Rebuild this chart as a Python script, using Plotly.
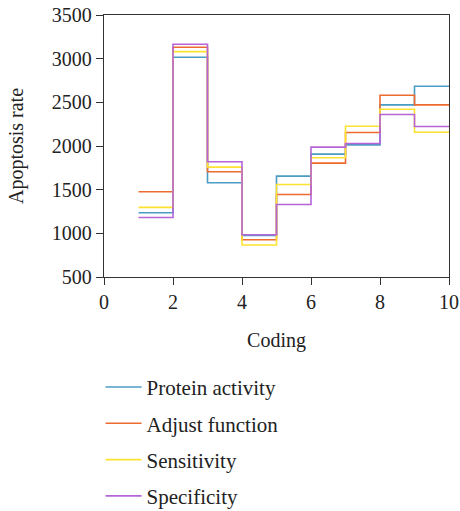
import plotly.graph_objects as go

coding = [1, 2, 3, 4, 5, 6, 7, 8, 9, 10]
protein_activity = [1236, 3016, 1579, 975, 1655, 1907, 2013, 2471, 2684]
adjust_function = [1476, 3130, 1705, 927, 1445, 1804, 2154, 2581, 2471]
sensitivity = [1297, 3081, 1758, 866, 1560, 1865, 2227, 2421, 2158]
specificity = [1182, 3165, 1819, 984, 1331, 1987, 2029, 2360, 2223]

series = [
    ("Protein activity", protein_activity, "#4b9cc4"),
    ("Adjust function", adjust_function, "#ee6b2f"),
    ("Sensitivity", sensitivity, "#fde232"),
    ("Specificity", specificity, "#b565d8"),
]

font_family = "Liberation Serif, DejaVu Serif, serif"
text_color = "#222222"

fig = go.Figure()
for i, (name, vals, color) in enumerate(series):
    fig.add_trace(go.Scatter(
        x=coding,
        y=vals + [vals[-1]],
        mode="lines",
        line=dict(shape="hv", color=color, width=1.6),
        name=name,
        legendgroup=f"g{i}",
    ))

axis_common = dict(
    showgrid=False, zeroline=False, showline=True, linecolor="#333333",
    linewidth=1.3, mirror=True, ticks="outside", ticklen=7, tickwidth=1.2,
    tickcolor="#333333", automargin=False,
    tickfont=dict(family=font_family, size=20, color=text_color),
)

fig.update_layout(
    width=460, height=511,
    margin=dict(l=104, r=11, t=15, b=234, autoexpand=False),
    paper_bgcolor="white", plot_bgcolor="white",
    font=dict(family=font_family, size=20, color=text_color),
    xaxis=dict(range=[0, 10], dtick=2, tick0=0,
               title=dict(text="Coding", font=dict(family=font_family, size=20), standoff=20),
               **axis_common),
    yaxis=dict(range=[500, 3500], dtick=500, tick0=500,
               title=dict(text="Apoptosis rate", font=dict(family=font_family, size=20), standoff=22),
               **axis_common),
    legend=dict(
        x=-0.01, y=-0.343, xanchor="left", yanchor="top",
        xref="paper", yref="paper",
        orientation="v", tracegroupgap=6, itemwidth=36,
        font=dict(family=font_family, size=21, color=text_color),
        bgcolor="rgba(0,0,0,0)",
    ),
    showlegend=True,
)

fig.write_html(
    "out.html",
    config={"displayModeBar": False},
    post_script="document.body.style.margin='0';document.body.style.overflow='hidden';",
)
